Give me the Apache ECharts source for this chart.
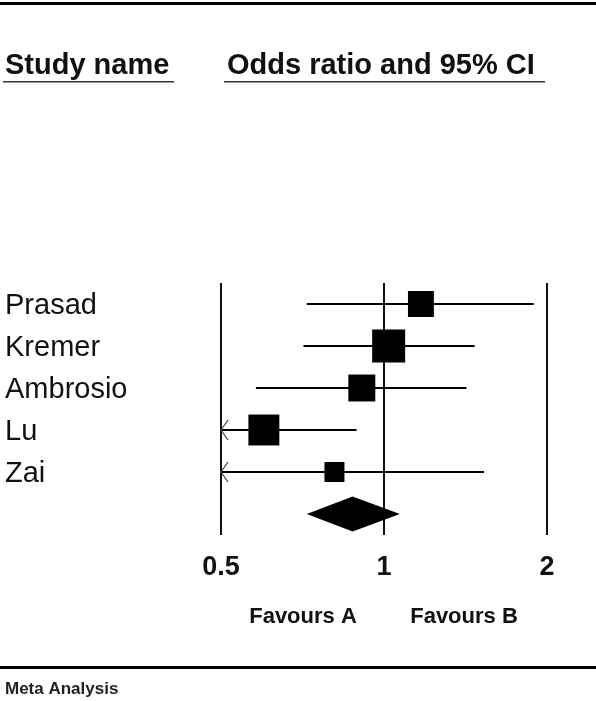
<!DOCTYPE html>
<html>
<head>
<meta charset="utf-8">
<script src="https://cdn.jsdelivr.net/npm/echarts@6/dist/echarts.min.js"></script>
<style>
  html, body { margin: 0; padding: 0; background: #fff; }
  #forest { width: 596px; height: 701px; }
</style>
</head>
<body>
<div id="forest"></div>
<script>
// study rows, top to bottom
let studies = ["Prasad", "Kremer", "Ambrosio", "Lu", "Zai"];
let oddsRatio = [1.17, 1.02, 0.91, 0.60, 0.81];
let lowerCI = [0.72, 0.71, 0.58, 0.38, 0.42];
let upperCI = [1.89, 1.47, 1.42, 0.89, 1.53];
let weights = [17.5, 28.3, 18.9, 24.9, 10.4]; // relative weight, %
// pooled estimate (diamond)
let pooled = [0.875, 0.72, 1.07];
let tickLabels = ["0.5", "1", "2"];
let favours = ["Favours A", "Favours B"];

let font = "'Liberation Sans', Arial, sans-serif";
let categories = studies.concat([""]);

let studyData = [];
for (let i = 0; i < studies.length; i++) {
  studyData.push([i, oddsRatio[i], lowerCI[i], upperCI[i], weights[i]]);
}

let chart = echarts.init(document.getElementById("forest"), null, { renderer: "canvas" });

function renderStudy(params, api) {
  let row = api.value(0);
  let xMin = 0.5;
  let lo = api.value(2);
  let clipped = lo < xMin;
  let pLo = api.coord([clipped ? xMin : lo, row]);
  let pHi = api.coord([api.value(3), row]);
  let pMid = api.coord([api.value(1), row]);
  let size = Math.sqrt(api.value(4)) * 6.2;
  let children = [
    {
      type: "line",
      shape: { x1: pLo[0], y1: pLo[1], x2: pHi[0], y2: pHi[1] },
      style: { stroke: "#000", lineWidth: 2 }
    },
    {
      type: "rect",
      shape: { x: pMid[0] - size / 2, y: pMid[1] - size / 2, width: size, height: size },
      style: { fill: "#000" }
    }
  ];
  if (clipped) {
    children.push({
      type: "polyline",
      shape: { points: [[pLo[0] + 7, pLo[1] - 10], [pLo[0], pLo[1]], [pLo[0] + 7, pLo[1] + 10]] },
      style: { stroke: "#444", lineWidth: 1.2, fill: null }
    });
  }
  return { type: "group", children: children };
}

function renderPooled(params, api) {
  let row = api.value(0);
  let c = api.coord([api.value(1), row]);
  let l = api.coord([api.value(2), row]);
  let r = api.coord([api.value(3), row]);
  let h = 17.5;
  return {
    type: "polygon",
    shape: { points: [[l[0], c[1]], [c[0], c[1] - h], [r[0], c[1]], [c[0], c[1] + h]] },
    style: { fill: "#000" }
  };
}

let option = {
  animation: false,
  backgroundColor: "#fff",
  grid: { left: 221, right: 49, top: 283, bottom: 166 },
  xAxis: {
    type: "log",
    logBase: 2,
    min: 0.5,
    max: 2,
    interval: 1,
    axisLine: { show: false },
    axisTick: { show: false },
    splitLine: { show: true, lineStyle: { color: "#111", width: 2 } },
    axisLabel: {
      margin: 19,
      fontFamily: font,
      fontSize: 27,
      fontWeight: "bold",
      color: "#111",
      formatter: function (v) {
        let s = String(+(+v).toPrecision(3));
        return tickLabels.indexOf(s) >= 0 ? s : "";
      }
    }
  },
  yAxis: {
    type: "category",
    inverse: true,
    data: categories,
    axisLine: { show: false },
    axisTick: { show: false },
    splitLine: { show: false },
    axisLabel: {
      align: "left",
      margin: 216,
      formatter: function (v) { return v ? "{n|" + v + "}" : ""; },
      rich: {
        n: { fontFamily: font, fontSize: 29, color: "#111", padding: [4, 0, 0, 0] }
      }
    }
  },
  series: [
    {
      type: "custom",
      renderItem: renderStudy,
      data: studyData,
      clip: false
    },
    {
      type: "custom",
      renderItem: renderPooled,
      data: [[5, pooled[0], pooled[1], pooled[2]]],
      clip: false
    }
  ],
  graphic: [
    { type: "rect", shape: { x: 0, y: 2, width: 596, height: 3 }, style: { fill: "#000" } },
    {
      type: "text", x: 5, y: 66,
      style: { text: "Study name", font: "bold 29px " + font, fill: "#111", textVerticalAlign: "middle" }
    },
    { type: "rect", shape: { x: 3, y: 81, width: 171, height: 1.5 }, style: { fill: "#333" } },
    {
      type: "text", x: 227, y: 66,
      style: { text: "Odds ratio and 95% CI", font: "bold 29px " + font, fill: "#111", textVerticalAlign: "middle" }
    },
    { type: "rect", shape: { x: 224, y: 81, width: 321, height: 1.5 }, style: { fill: "#333" } },
    {
      type: "text", x: 303, y: 617,
      style: { text: favours[0], font: "bold 22px " + font, fill: "#111", textAlign: "center", textVerticalAlign: "middle" }
    },
    {
      type: "text", x: 464, y: 617,
      style: { text: favours[1], font: "bold 22px " + font, fill: "#111", textAlign: "center", textVerticalAlign: "middle" }
    },
    { type: "rect", shape: { x: 0, y: 666, width: 596, height: 3 }, style: { fill: "#000" } },
    {
      type: "text", x: 5, y: 689,
      style: { text: "Meta Analysis", font: "bold 17px " + font, fill: "#222", textVerticalAlign: "middle" }
    }
  ]
};

chart.setOption(option);
</script>
</body>
</html>
